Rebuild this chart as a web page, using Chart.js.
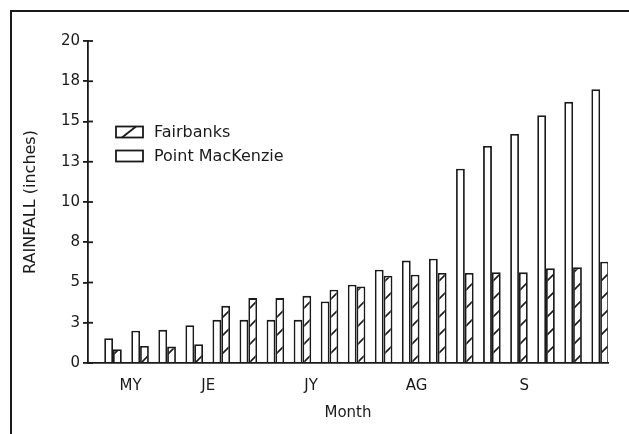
<!DOCTYPE html>
<html><head><meta charset="utf-8">
<script src="https://cdn.jsdelivr.net/npm/chart.js@4.4.0/dist/chart.umd.min.js"></script>
<style>
html,body{margin:0;padding:0;background:#fff;}
#wrap{position:relative;width:629px;height:434px;overflow:hidden;}
#frame{position:absolute;left:10px;top:10px;width:640px;height:440px;border-left:2px solid #1a1a1a;border-top:2px solid #1a1a1a;pointer-events:none;}
canvas{position:absolute;left:0;top:0;}
</style></head><body>
<div id="wrap"><canvas id="c" width="629" height="434"></canvas><div id="frame"></div></div>
<script>
// ---- data ----
const periods = [0, 1, 2, 3, 4, 5, 6, 7, 8, 9, 10, 11, 12, 13, 14, 15, 16, 17, 18];
const pointMacKenzie = [1.54, 2.01, 2.06, 2.35, 2.68, 2.68, 2.68, 2.68, 3.82, 4.86, 5.79, 6.36, 6.48, 12.07, 13.48, 14.23, 15.39, 16.22, 17.01];
const fairbanks = [0.85, 1.06, 1.02, 1.16, 3.55, 4.03, 4.03, 4.17, 4.55, 4.75, 5.42, 5.48, 5.59, 5.59, 5.63, 5.63, 5.88, 5.94, 6.29];
const monthLabels = ['MY', 'JE', 'JY', 'AG', 'S'];
const monthTickAt = [0.65, 3.52, 7.32, 11.22, 15.2];
const yTickLabels = ['0', '3', '5', '8', '10', '13', '15', '18', '20'];

const INK = '#1a1a1a';
const FONT = 'DejaVu Sans';

// hatch pattern for Fairbanks
function makeHatch() {
  const p = document.createElement('canvas');
  p.width = 18; p.height = 18;
  const g = p.getContext('2d');
  g.fillStyle = '#fff'; g.fillRect(0, 0, 18, 18);
  g.strokeStyle = INK; g.lineWidth = 1.6;
  g.beginPath();
  g.moveTo(-2, 20); g.lineTo(20, -2);
  g.moveTo(-2, 2); g.lineTo(2, -2);
  g.moveTo(16, 20); g.lineTo(20, 16);
  g.stroke();
  return g.createPattern(p, 'repeat');
}
const hatch = makeHatch();

const innerTicks = {
  id: 'innerTicks',
  afterDraw(chart) {
    const y = chart.scales.y, ctx = chart.ctx, x0 = chart.chartArea.left;
    ctx.save(); ctx.strokeStyle = INK; ctx.lineWidth = 1.8;
    y.ticks.forEach(t => {
      const py = y.getPixelForValue(t.value);
      ctx.beginPath(); ctx.moveTo(x0, py); ctx.lineTo(x0 + 5, py); ctx.stroke();
    });
    ctx.restore();
  }
};

const customLegend = {
  id: 'customLegend',
  afterDraw(chart) {
    const ctx = chart.ctx;
    const ds = chart.data.datasets.slice().reverse();
    ctx.save();
    ds.forEach((d, i) => {
      const bx = 116, bw = 27, bh = 11, cy = 132 + i * 24, by = cy - bh / 2;
      ctx.fillStyle = '#fff';
      ctx.fillRect(bx, by, bw, bh);
      ctx.strokeStyle = INK; ctx.lineWidth = 1.8;
      ctx.strokeRect(bx, by, bw, bh);
      if (d.hatched) {
        ctx.beginPath(); ctx.moveTo(bx + 6, by + bh); ctx.lineTo(bx + 20, by); ctx.stroke();
      }
      ctx.fillStyle = INK;
      ctx.font = '16px "' + FONT + '"';
      ctx.textBaseline = 'middle';
      ctx.textAlign = 'left';
      ctx.fillText(d.label, 154, cy + 1);
    });
    ctx.restore();
  }
};

new Chart(document.getElementById('c'), {
  type: 'bar',
  data: {
    datasets: [
      {
        label: 'Point MacKenzie',
        data: periods.map((p, i) => ({ x: p, y: pointMacKenzie[i] })),
        backgroundColor: '#fff', borderColor: INK, borderWidth: 1.8, hatched: false
      },
      {
        label: 'Fairbanks',
        data: periods.map((p, i) => ({ x: p, y: fairbanks[i] })),
        backgroundColor: hatch, borderColor: INK, borderWidth: 1.8, hatched: true
      }
    ]
  },
  options: {
    responsive: false,
    animation: false,
    categoryPercentage: 0.65,
    barPercentage: 1.0,
    layout: { padding: { left: 14, right: 21, top: 41, bottom: 0 } },
    plugins: { legend: { display: false }, tooltip: { enabled: false } },
    scales: {
      x: {
        type: 'linear',
        min: -0.924, max: 18.29,
        offset: false,
        grid: { display: false, drawTicks: false },
        border: { display: true, color: INK, width: 1.8 },
        afterBuildTicks: s => { s.ticks = monthTickAt.map(v => ({ value: v })); },
        ticks: {
          autoSkip: false, maxRotation: 0, padding: 14, color: INK,
          font: { family: FONT, size: 15 },
          callback: (v, i) => monthLabels[i]
        },
        title: { display: true, text: 'Month', color: INK, font: { family: FONT, size: 15 }, padding: { top: 0, bottom: 12 } },
        afterFit: s => { s.height = 71; }
      },
      y: {
        min: 0, max: 20,
        ticks: {
          stepSize: 2.5, padding: 3, color: INK,
          font: { family: FONT, size: 15 },
          callback: (v, i) => yTickLabels[i]
        },
        grid: { drawOnChartArea: false, drawTicks: true, tickLength: 5, color: INK, lineWidth: 1.8 },
        border: { display: true, color: INK, width: 1.8 },
        title: { display: true, text: 'RAINFALL (inches)', color: INK, font: { family: FONT, size: 16 }, padding: { top: 7, bottom: 0 } },
        afterFit: s => { s.width = 74; }
      }
    }
  },
  plugins: [innerTicks, customLegend]
});
</script>
</body></html>
